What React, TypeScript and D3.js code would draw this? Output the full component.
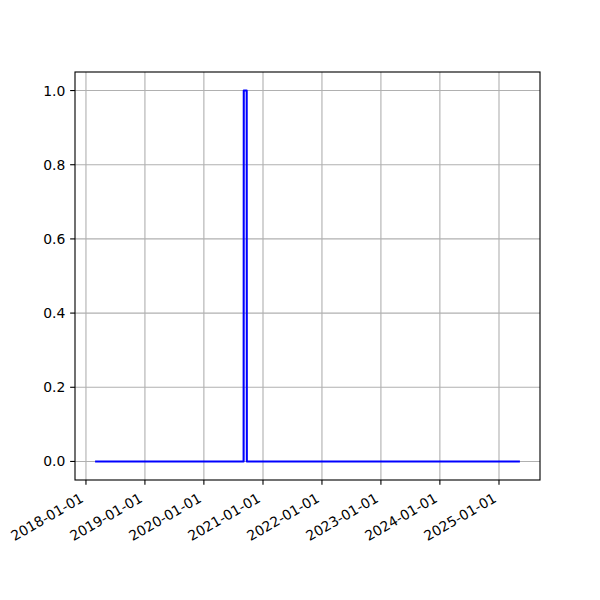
import React from "react";
import * as d3 from "d3";

const dates: string[] = [
  "2018-03-05",
  "2020-09-03",
  "2020-09-04",
  "2020-09-22",
  "2020-09-23",
  "2025-05-04",
];
const values: number[] = [0, 0, 1, 1, 0, 0];
const xTickLabels: string[] = [
  "2018-01-01",
  "2019-01-01",
  "2020-01-01",
  "2021-01-01",
  "2022-01-01",
  "2023-01-01",
  "2024-01-01",
  "2025-01-01",
];
const yTicks: number[] = [0, 0.2, 0.4, 0.6, 0.8, 1.0];

const W = 600;
const H = 600;
const L = 75, R = 540, T = 72, B = 480;
const FS = 13.9;
const FONT = "DejaVu Sans, sans-serif";

export default function App() {
  const parse = d3.utcParse("%Y-%m-%d");
  const pts = dates.map((d, i) => ({ t: parse(d)!, v: values[i] }));
  const t0 = +pts[0].t, t1 = +pts[pts.length - 1].t;
  const pad = (t1 - t0) * 0.05;
  const x = d3.scaleUtc().domain([new Date(t0 - pad), new Date(t1 + pad)]).range([L, R]);
  const y = d3.scaleLinear().domain([-0.05, 1.05]).range([B, T]);
  const line = d3
    .line<{ t: Date; v: number }>()
    .x((d) => x(d.t))
    .y((d) => y(d.v));
  const tickLen = 4.86;
  const tickPad = 4.86;
  const grid = "#b0b0b0";
  const h = 16;
  return (
    <svg width={W} height={H} style={{ position: "absolute", left: 0, top: 0, background: "#fff" }}>
      <rect x={0} y={0} width={W} height={H} fill="#fff" />
      {/* grid */}
      {xTickLabels.map((lab) => {
        const xx = x(parse(lab)!);
        return <line key={"gx" + lab} x1={xx} x2={xx} y1={T} y2={B} stroke={grid} strokeWidth={1.11} />;
      })}
      {yTicks.map((v) => (
        <line key={"gy" + v} x1={L} x2={R} y1={y(v)} y2={y(v)} stroke={grid} strokeWidth={1.11} />
      ))}
      {/* data line */}
      <path d={line(pts)!} fill="none" stroke="#0000ff" strokeWidth={2.08} strokeLinejoin="round" strokeLinecap="square" />
      {/* spines */}
      <rect x={L} y={T} width={R - L} height={B - T} fill="none" stroke="#000" strokeWidth={1.11} />
      {/* x ticks */}
      {xTickLabels.map((lab) => {
        const xx = x(parse(lab)!);
        const ax = xx - 0.25 * h;
        const ay = B + tickLen + tickPad + 0.433 * h;
        return (
          <g key={"xt" + lab}>
            <line x1={xx} x2={xx} y1={B} y2={B + tickLen} stroke="#000" strokeWidth={1.11} />
            <text
              x={ax}
              y={ay}
              transform={`rotate(-30 ${ax} ${ay})`}
              textAnchor="end"
              dominantBaseline="central"
              fontFamily={FONT}
              fontSize={FS}
              fill="#000"
            >
              {lab}
            </text>
          </g>
        );
      })}
      {/* y ticks */}
      {yTicks.map((v) => (
        <g key={"yt" + v}>
          <line x1={L - tickLen} x2={L} y1={y(v)} y2={y(v)} stroke="#000" strokeWidth={1.11} />
          <text
            x={L - tickLen - tickPad}
            y={y(v)}
            textAnchor="end"
            dominantBaseline="central"
            fontFamily={FONT}
            fontSize={FS}
            fill="#000"
          >
            {v.toFixed(1)}
          </text>
        </g>
      ))}
    </svg>
  );
}
